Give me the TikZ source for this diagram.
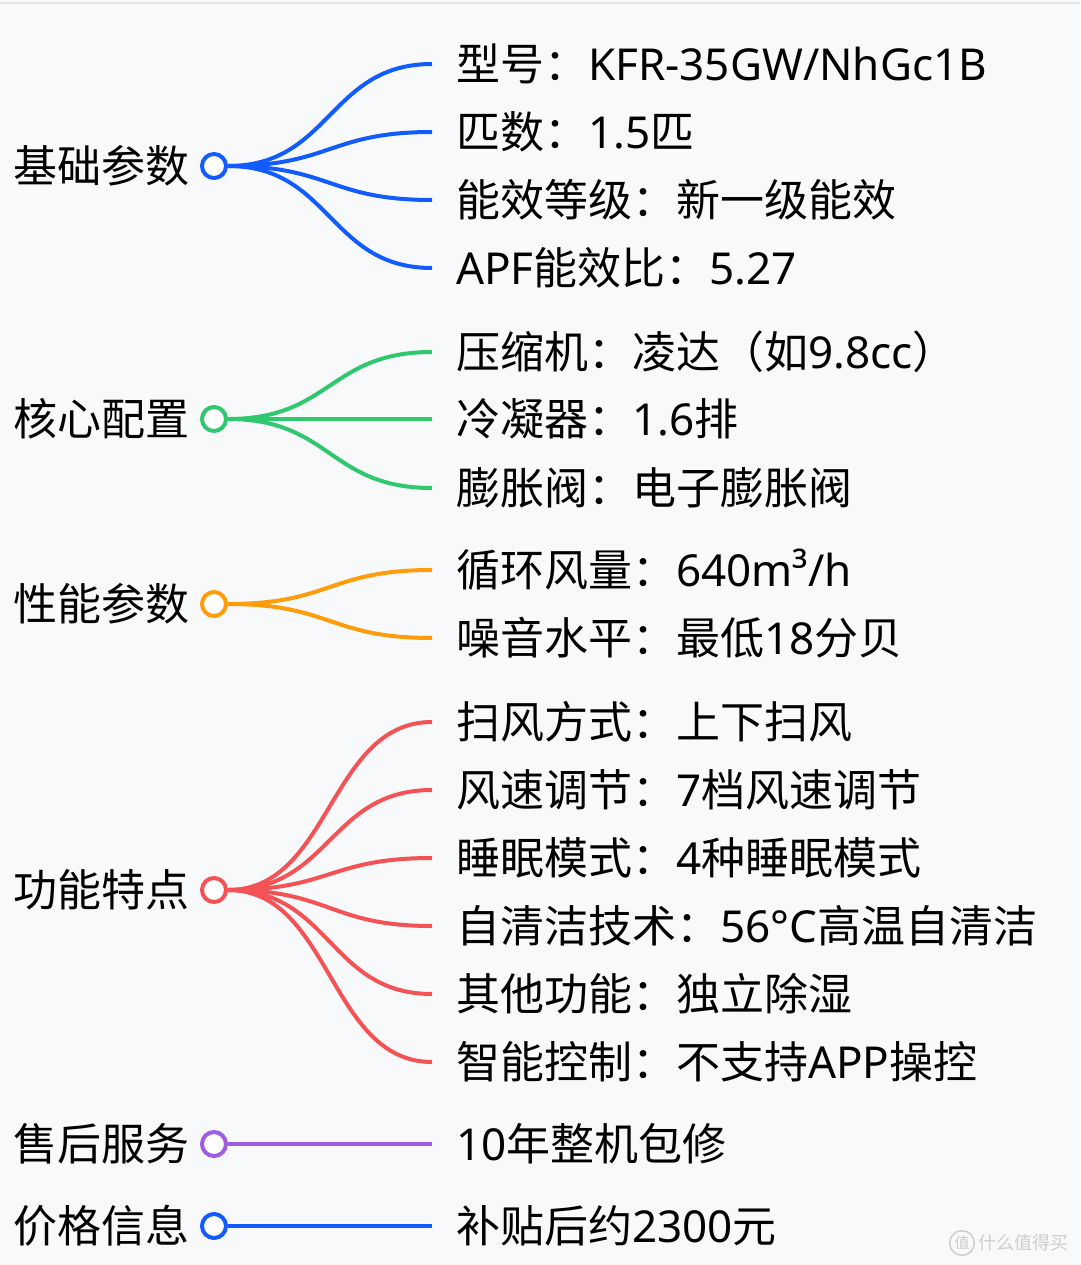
\documentclass[tikz,border=0pt]{standalone}
\usepackage{fontspec}
\setmainfont{Noto Sans CJK SC}
\newfontfamily\lat{Noto Sans}
\usetikzlibrary{positioning}
\definecolor{bg}{RGB}{248,249,251}
\definecolor{frameline}{RGB}{226,229,233}
\definecolor{mblue}{RGB}{18,92,255}
\definecolor{mgreen}{RGB}{48,200,110}
\definecolor{morange}{RGB}{255,156,10}
\definecolor{mred}{RGB}{245,82,86}
\definecolor{mpurple}{RGB}{160,92,225}
\definecolor{wmgray}{RGB}{205,205,208}

\begin{document}
\begin{tikzpicture}[x=1pt,y=-1pt,
    root/.style={draw=#1, circle, fill=white, line width=4pt, minimum size=24pt, inner sep=0pt},
    topic/.style={font=\fontsize{44}{52}\selectfont, text height=33pt, text depth=0pt, inner xsep=0pt, inner ysep=0pt},
    leaf/.style={font=\fontsize{44}{52}\selectfont, anchor=west, text height=33pt, text depth=0pt, inner xsep=24pt, inner ysep=0pt},
    link/.style={line width=4pt}]
    \fill[bg] (0,0) rectangle (1080,1265);
    \useasboundingbox (0,0) rectangle (1080,1265);
    \draw[frameline, line width=2pt] (0,3) -- (1080,3);

    % roots
    \node[root=mblue] at (214,166) (b) {};
    \node[root=mgreen] at (214,419) (c) {};
    \node[root=morange] at (214,604) (p) {};
    \node[root=mred] at (214,890) (f) {};
    \node[root=mpurple] at (214,1144) (s) {};
    \node[root=mblue] at (214,1226) (j) {};
    \node[topic, left=10pt of b] (bt) {基础参数};
    \node[topic, left=10pt of c] (ct) {核心配置};
    \node[topic, left=10pt of p] (pt) {性能参数};
    \node[topic, left=10pt of f] (ft) {功能特点};
    \node[topic, left=10pt of s] (st) {售后服务};
    \node[topic, left=10pt of j] (jt) {价格信息};

    % leaves
    \node[leaf] at (432,64) (b1) {型号：{\lat KFR-35GW/NhGc1B}};
    \node[leaf] at (432,132) (b2) {匹数：{\lat 1.5}匹};
    \node[leaf] at (432,200) (b3) {能效等级：新一级能效};
    \node[leaf] at (432,268) (b4) {{\lat APF}能效比：{\lat 5.27}};
    \node[leaf] at (432,352) (c1) {压缩机：凌达（如{\lat 9.8cc}）};
    \node[leaf] at (432,419) (c2) {冷凝器：{\lat 1.6}排};
    \node[leaf] at (432,488) (c3) {膨胀阀：电子膨胀阀};
    \node[leaf] at (432,570) (p1) {循环风量：{\lat 640m³/h}};
    \node[leaf] at (432,638) (p2) {噪音水平：最低{\lat 18}分贝};
    \node[leaf] at (432,722) (f1) {扫风方式：上下扫风};
    \node[leaf] at (432,790) (f2) {风速调节：{\lat 7}档风速调节};
    \node[leaf] at (432,858) (f3) {睡眠模式：{\lat 4}种睡眠模式};
    \node[leaf] at (432,926) (f4) {自清洁技术：{\lat 56°C}高温自清洁};
    \node[leaf] at (432,994) (f5) {其他功能：独立除湿};
    \node[leaf] at (432,1062) (f6) {智能控制：不支持{\lat APP}操控};
    \node[leaf] at (432,1144) (s1) {{\lat 10}年整机包修};
    \node[leaf] at (432,1226) (j1) {补贴后约{\lat 2300}元};

    % links
    \draw[link, mblue] (b.east) .. controls +(103,0) and +(-103,0) .. (b1.west);
    \draw[link, mblue] (b.east) .. controls +(103,0) and +(-103,0) .. (b2.west);
    \draw[link, mblue] (b.east) .. controls +(103,0) and +(-103,0) .. (b3.west);
    \draw[link, mblue] (b.east) .. controls +(103,0) and +(-103,0) .. (b4.west);
    \draw[link, mgreen] (c.east) .. controls +(103,0) and +(-103,0) .. (c1.west);
    \draw[link, mgreen] (c.east) -- (c2.west);
    \draw[link, mgreen] (c.east) .. controls +(103,0) and +(-103,0) .. (c3.west);
    \draw[link, morange] (p.east) .. controls +(103,0) and +(-103,0) .. (p1.west);
    \draw[link, morange] (p.east) .. controls +(103,0) and +(-103,0) .. (p2.west);
    \draw[link, mred] (f.east) .. controls +(103,0) and +(-103,0) .. (f1.west);
    \draw[link, mred] (f.east) .. controls +(103,0) and +(-103,0) .. (f2.west);
    \draw[link, mred] (f.east) .. controls +(103,0) and +(-103,0) .. (f3.west);
    \draw[link, mred] (f.east) .. controls +(103,0) and +(-103,0) .. (f4.west);
    \draw[link, mred] (f.east) .. controls +(103,0) and +(-103,0) .. (f5.west);
    \draw[link, mred] (f.east) .. controls +(103,0) and +(-103,0) .. (f6.west);
    \draw[link, mpurple] (s.east) -- (s1.west);
    \draw[link, mblue] (j.east) -- (j1.west);

    % watermark
    \node[draw=wmgray, line width=1.5pt, circle, inner sep=1.5pt, text=wmgray, font=\fontsize{15}{15}\selectfont] at (962,1243) (wm) {值};
    \node[right=3pt of wm, text=wmgray, inner sep=0pt, font=\fontsize{18}{18}\selectfont] (wmt) {什么值得买};
\end{tikzpicture}
\end{document}
